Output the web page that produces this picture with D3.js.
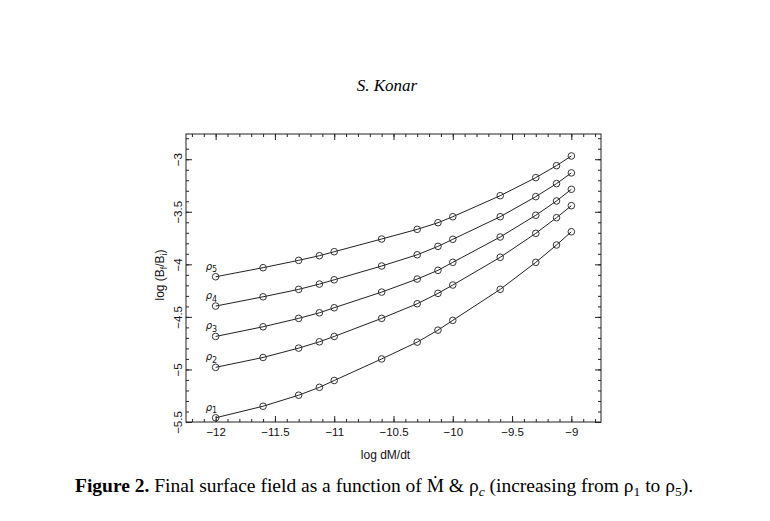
<!DOCTYPE html>
<html>
<head>
<meta charset="utf-8">
<script src="https://cdn.jsdelivr.net/npm/d3@7"></script>
<style>
  body { margin: 0; background: #fff; }
  svg { display: block; }
  .tick text { font-family: "Liberation Sans", Arial, sans-serif; font-size: 11.5px; fill: #111; }
  .tick line { stroke: #222; }
</style>
</head>
<body>
<svg id="chart" width="770" height="521"></svg>
<script>
// log dM/dt values (x) shared by all curves
const logMdot = [-12, -11.6, -11.3, -11.125, -11, -10.6, -10.3, -10.125, -10, -9.6, -9.3, -9.125, -9];

// log (Bf/Bi) for each central density, rho1 .. rho5
const rho1 = [-5.46, -5.35, -5.245, -5.17, -5.105, -4.90, -4.74, -4.626, -4.533, -4.238, -3.981, -3.816, -3.69];
const rho2 = [-4.98, -4.886, -4.797, -4.737, -4.686, -4.514, -4.375, -4.276, -4.197, -3.933, -3.705, -3.556, -3.442];
const rho3 = [-4.686, -4.594, -4.514, -4.461, -4.413, -4.264, -4.14, -4.057, -3.981, -3.74, -3.533, -3.397, -3.286];
const rho4 = [-4.397, -4.309, -4.238, -4.188, -4.147, -4.016, -3.909, -3.829, -3.762, -3.547, -3.356, -3.232, -3.13];
const rho5 = [-4.118, -4.032, -3.962, -3.918, -3.88, -3.759, -3.667, -3.604, -3.547, -3.347, -3.175, -3.061, -2.969];

const seriesNames = ["1", "2", "3", "4", "5"];
const seriesValues = [rho1, rho2, rho3, rho4, rho5];

// tick values
const xMajor = [-12, -11.5, -11, -10.5, -10, -9.5, -9];
const xMinor = d3.range(-122, -87).map(d => d / 10);
const yMajor = [-5.5, -5, -4.5, -4, -3.5, -3];
const yMinor = d3.range(-55, -27).map(d => d / 10);

const svg = d3.select('#chart');

const box = { left: 186, right: 601, top: 134, bottom: 422 };

const x = d3.scaleLinear().domain([-12.25, -8.75]).range([box.left, box.right]);
const y = d3.scaleLinear().domain([-5.5, -2.76]).range([box.bottom, box.top]);

const fmt = d => d3.format('')(d).replace('-', '\u2212');

// 1) frame
svg.append('rect')
    .attr('x', box.left)
    .attr('y', box.top)
    .attr('width', box.right - box.left)
    .attr('height', box.bottom - box.top)
    .attr('fill', 'none')
    .attr('stroke', '#222')
    .attr('stroke-width', 1);

// 2) axes, ticks pointing inward on all four sides
function addAxis(axis, tx, ty) {
    const g = svg.append('g').attr('transform', `translate(${tx},${ty})`).call(axis);
    g.select('.domain').remove();
    return g;
}

addAxis(d3.axisBottom(x).tickValues(xMinor).tickSize(-3).tickFormat(''), 0, box.bottom);
addAxis(d3.axisBottom(x).tickValues(xMajor).tickSize(-6).tickPadding(6).tickFormat(fmt), 0, box.bottom);
addAxis(d3.axisTop(x).tickValues(xMinor).tickSize(-3).tickFormat(''), 0, box.top);
addAxis(d3.axisTop(x).tickValues(xMajor).tickSize(-6).tickFormat(''), 0, box.top);
addAxis(d3.axisRight(y).tickValues(yMinor).tickSize(-3).tickFormat(''), box.right, 0);
addAxis(d3.axisRight(y).tickValues(yMajor).tickSize(-6).tickFormat(''), box.right, 0);
addAxis(d3.axisLeft(y).tickValues(yMinor).tickSize(-3).tickFormat(''), box.left, 0);

const yAxis = addAxis(d3.axisLeft(y).tickValues(yMajor).tickSize(-6).tickFormat(fmt), box.left, 0);
// rotated y tick labels
yAxis.selectAll('.tick text')
    .attr('x', 0)
    .attr('y', -4)
    .attr('dy', 0)
    .attr('text-anchor', 'middle')
    .attr('transform', 'rotate(-90)');

// 3) curves + open circles
const line = d3.line()
    .x((d, i) => x(logMdot[i]))
    .y(d => y(d));

const series = svg.selectAll('g.series')
    .data(seriesValues)
    .enter()
    .append('g')
    .attr('class', 'series');

series.append('path')
    .attr('d', d => line(d))
    .attr('fill', 'none')
    .attr('stroke', '#222')
    .attr('stroke-width', 1);

series.selectAll('circle')
    .data(d => d)
    .enter()
    .append('circle')
    .attr('cx', (d, i) => x(logMdot[i]))
    .attr('cy', d => y(d))
    .attr('r', 3.3)
    .attr('fill', 'none')
    .attr('stroke', '#333')
    .attr('stroke-width', 1);

// rho labels next to the first point
const rhoLabel = svg.selectAll('text.rho')
    .data(seriesValues)
    .enter()
    .append('text')
    .attr('class', 'rho')
    .attr('x', x(logMdot[0]) - 10)
    .attr('y', d => y(d[0]) - 7)
    .attr('font-family', '"DejaVu Sans", sans-serif')
    .attr('font-style', 'italic')
    .attr('font-size', 10)
    .attr('fill', '#111');
rhoLabel.append('tspan').text('\u03c1');
rhoLabel.append('tspan')
    .attr('dy', 2.5)
    .attr('font-size', 8)
    .attr('font-style', 'normal')
    .text((d, i) => seriesNames[i]);

// 4) axis titles
svg.append('text')
    .attr('x', (box.left + box.right) / 2 - 8)
    .attr('y', 459)
    .attr('text-anchor', 'middle')
    .attr('font-family', '"Liberation Sans", Arial, sans-serif')
    .attr('font-size', 12)
    .attr('fill', '#111')
    .text('log dM/dt');

const yTitle = svg.append('text')
    .attr('transform', `translate(164,275) rotate(-90)`)
    .attr('text-anchor', 'middle')
    .attr('font-family', '"Liberation Sans", Arial, sans-serif')
    .attr('font-size', 12)
    .attr('fill', '#111');
yTitle.append('tspan').text('log (B');
yTitle.append('tspan').attr('dy', 2.5).attr('font-size', 8.5).text('f');
yTitle.append('tspan').attr('dy', -2.5).text('/B');
yTitle.append('tspan').attr('dy', 2.5).attr('font-size', 8.5).text('i');
yTitle.append('tspan').attr('dy', -2.5).text(')');

// 5) running head and caption
svg.append('text')
    .attr('x', 387)
    .attr('y', 91)
    .attr('text-anchor', 'middle')
    .attr('font-family', '"Liberation Serif", "Times New Roman", serif')
    .attr('font-style', 'italic')
    .attr('font-size', 17)
    .attr('fill', '#000')
    .text('S. Konar');

const caption = svg.append('text')
    .attr('x', 75)
    .attr('y', 492)
    .attr('font-family', '"Liberation Serif", "Times New Roman", serif')
    .attr('font-size', 19.5)
    .attr('fill', '#000');
caption.append('tspan').attr('font-weight', 'bold').text('Figure 2.');
caption.append('tspan').text(' Final surface field as a function of \u1e40  & \u03c1');
caption.append('tspan').attr('dy', 3.5).attr('font-size', 13.5).attr('font-style', 'italic').text('c');
caption.append('tspan').attr('dy', -3.5).text(' (increasing from \u03c1');
caption.append('tspan').attr('dy', 3.5).attr('font-size', 13.5).text('1');
caption.append('tspan').attr('dy', -3.5).text(' to \u03c1');
caption.append('tspan').attr('dy', 3.5).attr('font-size', 13.5).text('5');
caption.append('tspan').attr('dy', -3.5).text(').');
</script>
</body>
</html>
